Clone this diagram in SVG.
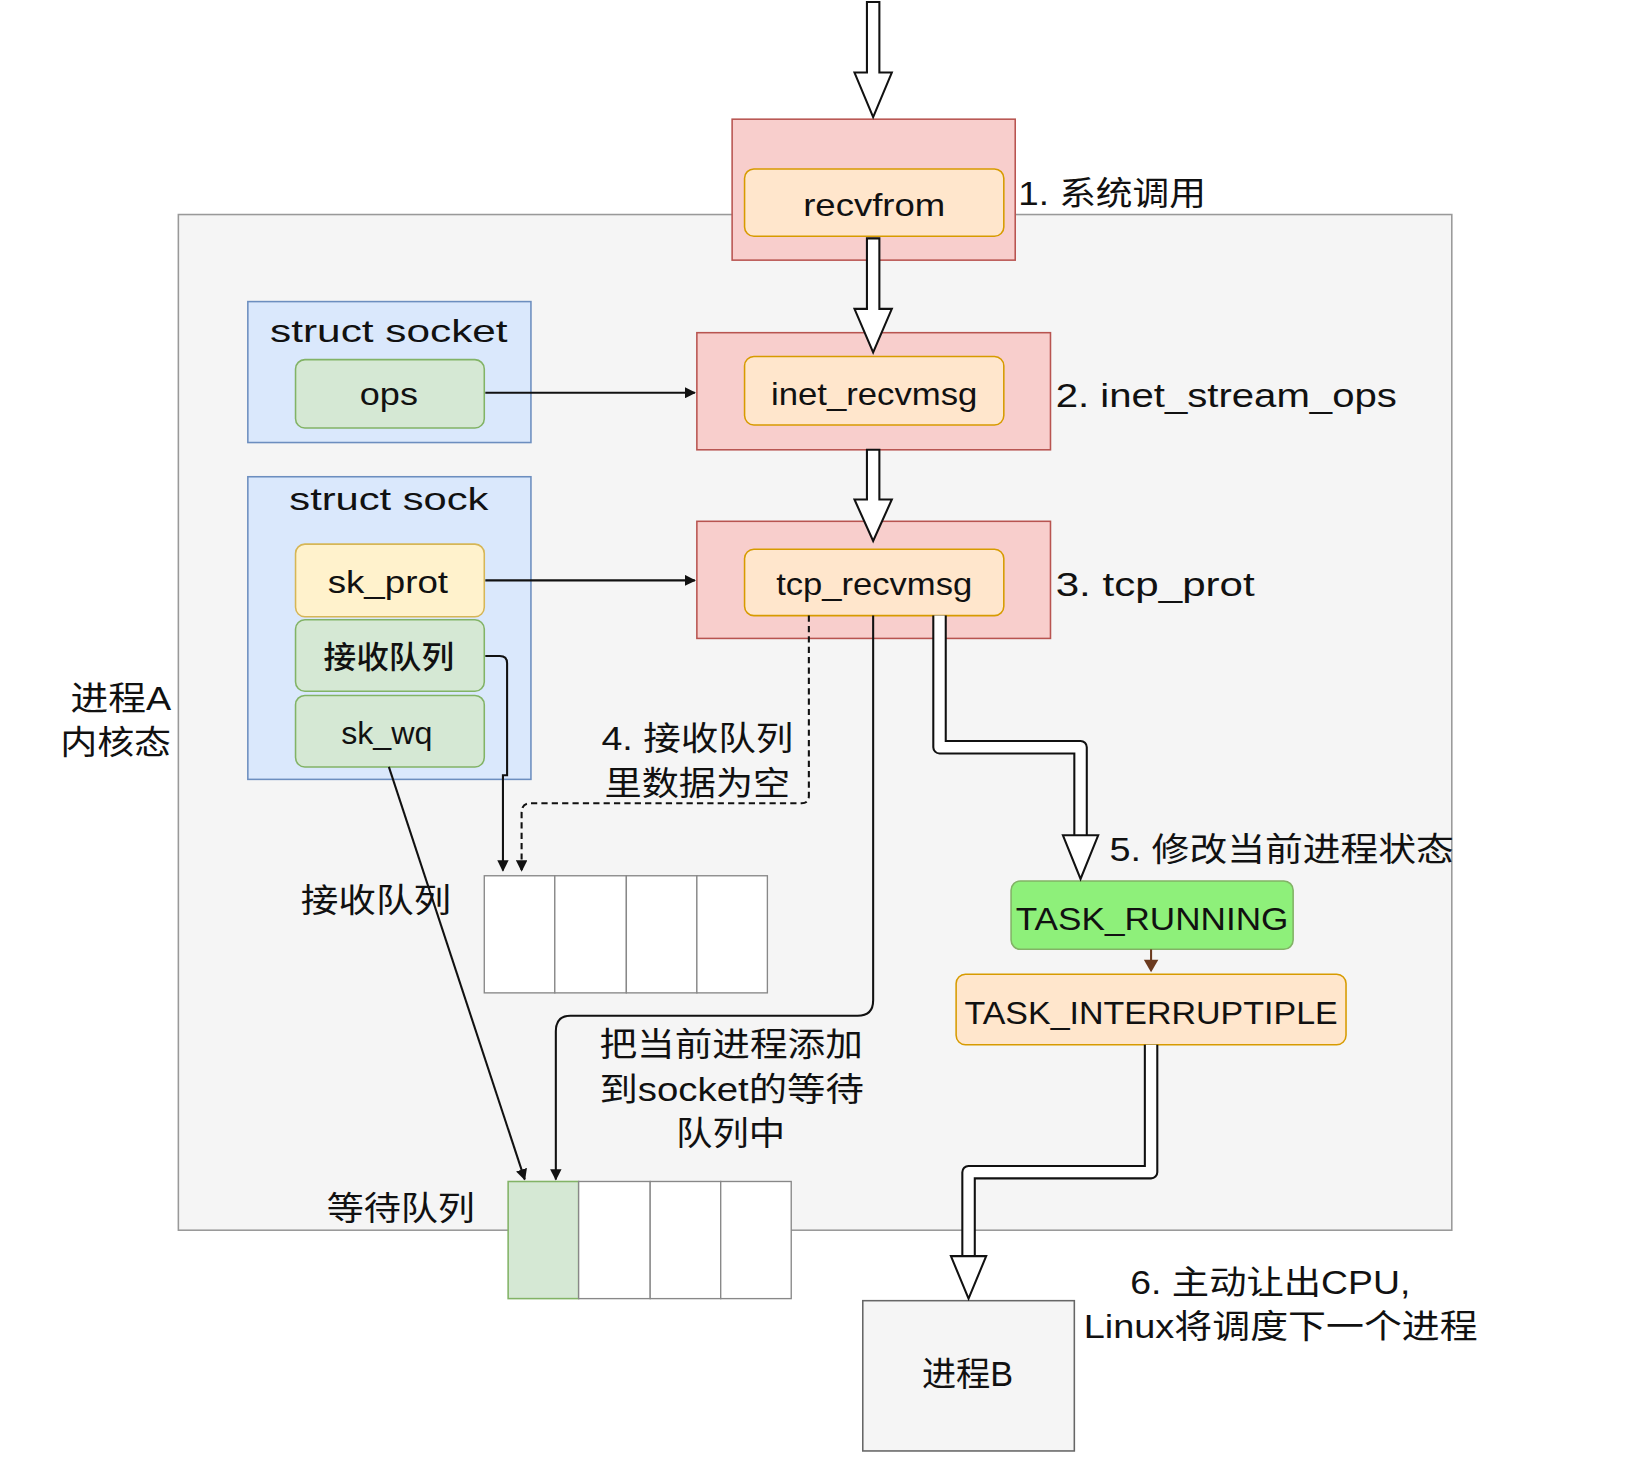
<svg xmlns="http://www.w3.org/2000/svg" width="1626" height="1482" viewBox="0 0 1626 1482">
<defs>
<style>
text{font-family:"Liberation Sans","Noto Sans CJK SC",sans-serif;fill:#111;}
.t{font-size:30px;text-anchor:middle;font-weight:500;}
.l{font-size:32px;}
.red{fill:#f8cecc;stroke:#b85450;stroke-width:1.5;}
.org{fill:#ffe6cc;stroke:#d79b00;stroke-width:1.5;}
.blu{fill:#dae8fc;stroke:#6c8ebf;stroke-width:1.5;}
.grn{fill:#d5e8d4;stroke:#82b366;stroke-width:1.5;}
.yel{fill:#fff2cc;stroke:#d6b656;stroke-width:1.5;}
.cell{fill:#fff;stroke:#888;stroke-width:1.3;}
.ln{fill:none;stroke:#111;stroke-width:2;}
.ho{fill:#fff;stroke:#111;stroke-width:2;}
.hb{fill:none;stroke:#111;stroke-width:14;stroke-linejoin:round;}
.hw{fill:none;stroke:#fff;stroke-width:10;stroke-linejoin:round;}
</style>
<marker id="a" viewBox="0 0 10 10" refX="9" refY="5" markerWidth="11" markerHeight="11" markerUnits="userSpaceOnUse" orient="auto"><path d="M0,0L10,5L0,10z" fill="#111"/></marker>
</defs>
<g transform="scale(1.037,1.0364)">
<rect id="panel" x="172" y="207" width="1228" height="980" fill="#f5f5f5" stroke="#999" stroke-width="1.5"/>
<g id="labelA"><text class="l" x="68" y="685" textLength="97" lengthAdjust="spacingAndGlyphs">进程A</text><text class="l" x="58" y="728" textLength="107" lengthAdjust="spacingAndGlyphs">内核态</text></g>

<g id="recvfrom"><rect class="red" x="706" y="115" width="273" height="136"/><rect class="org" x="718" y="163" width="250" height="65" rx="9"/><text class="t" x="843" y="208" textLength="137" lengthAdjust="spacingAndGlyphs">recvfrom</text></g>
<text class="l" x="982" y="198" textLength="181" lengthAdjust="spacingAndGlyphs">1. 系统调用</text>
<g id="inet"><rect class="red" x="672" y="321" width="341" height="113"/><rect class="org" x="718" y="344" width="250" height="66" rx="9"/><text class="t" x="843" y="391" textLength="199" lengthAdjust="spacingAndGlyphs">inet_recvmsg</text></g>
<text class="l" x="1018" y="393" textLength="329" lengthAdjust="spacingAndGlyphs">2. inet_stream_ops</text>
<g id="tcp"><rect class="red" x="672" y="503" width="341" height="113"/><rect class="org" x="718" y="530" width="250" height="64" rx="9"/><text class="t" x="843" y="574" textLength="189" lengthAdjust="spacingAndGlyphs">tcp_recvmsg</text></g>
<text class="l" x="1018" y="575" textLength="192" lengthAdjust="spacingAndGlyphs">3. tcp_prot</text>

<g id="socket"><rect class="blu" x="239" y="291" width="273" height="136"/><text class="t" x="375" y="330" textLength="229" lengthAdjust="spacingAndGlyphs">struct socket</text><rect class="grn" x="285" y="347" width="182" height="66" rx="9"/><text class="t" x="375" y="391" textLength="56" lengthAdjust="spacingAndGlyphs">ops</text></g>
<g id="sock"><rect class="blu" x="239" y="460" width="273" height="292"/><text class="t" x="375" y="492" textLength="192" lengthAdjust="spacingAndGlyphs">struct sock</text>
<rect class="yel" x="285" y="525" width="182" height="70" rx="9"/><text class="t" x="374" y="572" textLength="116" lengthAdjust="spacingAndGlyphs">sk_prot</text>
<rect class="grn" x="285" y="598" width="182" height="69" rx="9"/><text class="t" x="375" y="645" textLength="126" lengthAdjust="spacingAndGlyphs">接收队列</text>
<rect class="grn" x="285" y="671" width="182" height="69" rx="9"/><text class="t" x="373" y="718" textLength="88" lengthAdjust="spacingAndGlyphs">sk_wq</text></g>

<g id="rq"><rect class="cell" x="467" y="845" width="68" height="113"/><rect class="cell" x="535" y="845" width="69" height="113"/><rect class="cell" x="604" y="845" width="68" height="113"/><rect class="cell" x="672" y="845" width="68" height="113"/></g>
<text class="l" x="290" y="880" textLength="145" lengthAdjust="spacingAndGlyphs">接收队列</text>
<g id="wq"><rect class="grn" x="490" y="1140" width="68" height="113"/><rect class="cell" x="558" y="1140" width="69" height="113"/><rect class="cell" x="627" y="1140" width="68" height="113"/><rect class="cell" x="695" y="1140" width="68" height="113"/></g>
<text class="l" x="315" y="1177" textLength="143" lengthAdjust="spacingAndGlyphs">等待队列</text>

<g id="run"><rect x="975" y="850" width="272" height="66" rx="9" fill="#8ef07a" stroke="#82b366" stroke-width="1.5"/><text class="t" x="1111" y="897" textLength="263" lengthAdjust="spacingAndGlyphs">TASK_RUNNING</text></g>
<g id="intr"><rect class="org" x="922" y="940" width="376" height="68" rx="9"/><text class="t" x="1110" y="988" textLength="360" lengthAdjust="spacingAndGlyphs">TASK_INTERRUPTIPLE</text></g>
<g id="procB"><rect x="832" y="1255" width="204" height="145" fill="#f5f5f5" stroke="#666" stroke-width="1.5"/><text x="933" y="1337" font-size="33" text-anchor="middle">进程B</text></g>

<text class="l" x="580" y="724" textLength="185" lengthAdjust="spacingAndGlyphs">4. 接收队列</text>
<text class="l" x="583" y="767" textLength="179" lengthAdjust="spacingAndGlyphs">里数据为空</text>
<text class="l" x="578" y="1019" textLength="254" lengthAdjust="spacingAndGlyphs">把当前进程添加</text>
<text class="l" x="578" y="1062" textLength="255" lengthAdjust="spacingAndGlyphs">到socket的等待</text>
<text class="l" x="652" y="1105" textLength="105" lengthAdjust="spacingAndGlyphs">队列中</text>
<text class="l" x="1070" y="831" textLength="332" lengthAdjust="spacingAndGlyphs">5. 修改当前进程状态</text>
<text class="l" x="1090" y="1249" textLength="270" lengthAdjust="spacingAndGlyphs">6. 主动让出CPU,</text>
<text class="l" x="1045" y="1291" textLength="380" lengthAdjust="spacingAndGlyphs">Linux将调度下一个进程</text>

<g id="connectors">
<polygon class="ho" points="836,2 848,2 848,70 860,70 842,113 824,70 836,70"/>
<polygon class="ho" points="836,230 848,230 848,298 860,298 842,340 824,298 836,298"/>
<polygon class="ho" points="836,434 848,434 848,482 860,482 842,522 824,482 836,482"/>
<path class="ln" d="M468,379H670" marker-end="url(#a)"/>
<path class="ln" d="M468,560H670" marker-end="url(#a)"/>
<path class="ln" d="M468,633H482Q489,633 489,640V748H485V840" marker-end="url(#a)"/>
<path class="ln" d="M780,594V768Q780,775 773,775H512Q503,775 503,784V840" stroke-dasharray="6,4" marker-end="url(#a)"/>
<path class="ln" d="M375,740L506,1138" marker-end="url(#a)"/>
<path class="ln" d="M842,594V965Q842,980 827,980H550Q536,980 536,995V1138" marker-end="url(#a)"/>
<path class="hb" d="M906,594V721H1042V806"/><path class="hw" d="M906,594V721H1042V810"/>
<polygon class="ho" points="1025,806 1059,806 1042,848"/>
<path class="hb" d="M1110,1008V1131H934V1212"/><path class="hw" d="M1110,1008V1131H934V1216"/>
<polygon class="ho" points="917,1212 951,1212 934,1253"/>
<path d="M1110,916V936" stroke="#6b3a1f" stroke-width="2" fill="none"/><path d="M1103,926L1110,938L1117,926z" fill="#6b3a1f"/>
</g>
</g>
</svg>
